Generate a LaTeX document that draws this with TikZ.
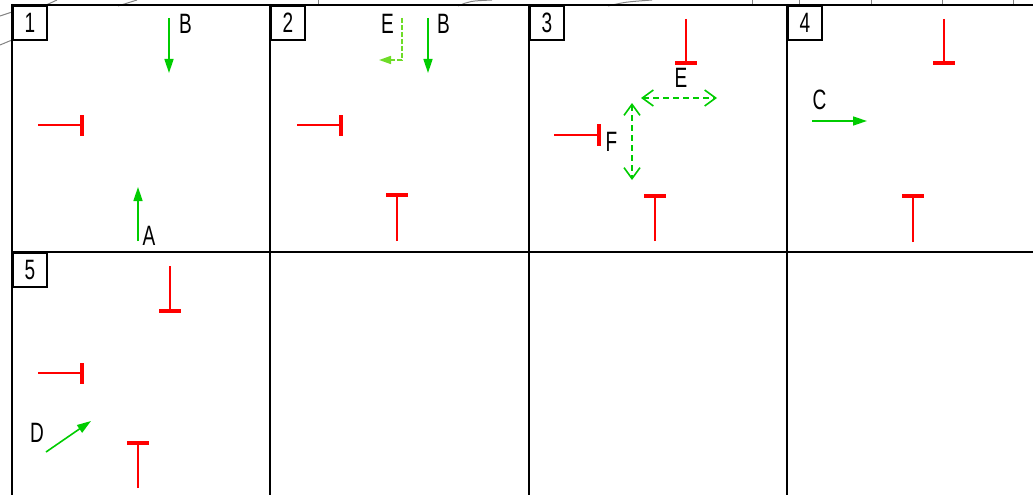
\documentclass[tikz,border=0pt]{standalone}
\usepackage{fontspec}
\setmainfont{Liberation Sans}[FakeStretch=0.68]
\usetikzlibrary{arrows.meta}
\definecolor{cadgreen}{RGB}{0,204,0}
\definecolor{cadlight}{RGB}{110,220,40}
\definecolor{cadred}{RGB}{255,0,0}
\definecolor{bggray}{RGB}{130,130,130}
\tikzset{
  grid/.style={line width=2pt, black},
  numbox/.style={draw, line width=1.6pt, minimum width=34pt, minimum height=34pt, inner sep=0pt, anchor=north west, font=\fontsize{28}{29}\selectfont},
  lbl/.style={inner sep=0pt, font=\fontsize{28}{29}\selectfont},
  stem/.style={cadred, line width=1.6pt},
  bar/.style={cadred, line width=3.2pt},
  garrow/.style={cadgreen, line width=1.6pt, -{Triangle[length=14pt,width=9pt]}},
  earrow/.style={cadlight, line width=1.6pt, dash pattern=on 5pt off 2pt, -{Triangle[length=12pt,width=8pt]}},
  darrow/.style={cadgreen, line width=1.6pt, dash pattern=on 6pt off 4pt, {Straight Barb[length=11pt,width=16pt]}-{Straight Barb[length=11pt,width=16pt]}},
  bgline/.style={bggray, line width=1pt}
}
\begin{document}
\begin{tikzpicture}[x=1pt,y=-1pt]
\useasboundingbox (0,0) rectangle (1033,495);
% faint background lines
\draw[bgline] (0,16) -- (12,12);
\draw[bgline] (0,45) -- (12,40);
\draw[bgline] (44,6) -- (57,0);
\draw[bgline] (118,6) -- (137,0);
\draw[bgline] (318,0) -- (318,5);
\draw[bgline] (458,6) .. controls (470,1) .. (492,0);
\draw[bgline] (608,6) .. controls (625,2) .. (652,0);
\foreach \xx in {752,799,871,942,1013} \draw[bgline] (\xx,0) -- (\xx,5);
% grid
\draw[grid] (11,5) -- (1033,5);
\draw[grid] (11,252) -- (1033,252);
\foreach \xx in {12,270,529,787} \draw[grid] (\xx,4) -- (\xx,495);
% number boxes
\node[numbox] (n1) at (12,5) {1};
\node[numbox] (n2) at (270,5) {2};
\node[numbox] (n3) at (529,5) {3};
\node[numbox] (n4) at (787,5) {4};
\node[numbox] (n5) at (12,252) {5};
% ---- panel 1
\coordinate (p1b0) at (169,18); \coordinate (p1b1) at (169,73);
\draw[garrow] (p1b0) -- (p1b1);
\node[lbl] (p1B) at (185.5,24) {B};
\coordinate (p1l0) at (38,125); \coordinate (p1l1) at (82,125);
\draw[stem] (p1l0) -- (p1l1);
\draw[bar] (82,115) -- (82,136);
\coordinate (p1a0) at (138,241); \coordinate (p1a1) at (138,187);
\draw[garrow] (p1a0) -- (p1a1);
\node[lbl] (p1A) at (149,236) {A};
% ---- panel 2
\coordinate (p2e0) at (402,18); \coordinate (p2e1) at (402,60); \coordinate (p2e2) at (379,60);
\draw[earrow] (p2e0) -- (p2e1) -- (p2e2);
\node[lbl] (p2E) at (387.5,24) {E};
\coordinate (p2b0) at (428,18); \coordinate (p2b1) at (428,73);
\draw[garrow] (p2b0) -- (p2b1);
\node[lbl] (p2B) at (443.5,24) {B};
\coordinate (p2l0) at (297,125); \coordinate (p2l1) at (341,125);
\draw[stem] (p2l0) -- (p2l1);
\draw[bar] (341,115) -- (341,136);
\coordinate (p2t0) at (397,241); \coordinate (p2t1) at (397,195);
\draw[stem] (p2t0) -- (p2t1);
\draw[bar] (386,195) -- (408,195);
% ---- panel 3
\coordinate (p3u0) at (686,19); \coordinate (p3u1) at (686,63);
\draw[stem] (p3u0) -- (p3u1);
\draw[bar] (675,63) -- (697,63);
\node[lbl] (p3E) at (681,77.5) {E};
\coordinate (p3h0) at (641,98); \coordinate (p3h1) at (717,98);
\draw[darrow] (p3h0) -- (p3h1);
\coordinate (p3v0) at (632,103); \coordinate (p3v1) at (632,180);
\draw[darrow] (p3v0) -- (p3v1);
\coordinate (p3l0) at (554,135); \coordinate (p3l1) at (599,135);
\draw[stem] (p3l0) -- (p3l1);
\draw[bar] (599,124) -- (599,146);
\node[lbl] (p3F) at (611.5,142) {F};
\coordinate (p3t0) at (655,241); \coordinate (p3t1) at (655,196);
\draw[stem] (p3t0) -- (p3t1);
\draw[bar] (644,196) -- (666,196);
% ---- panel 4
\coordinate (p4u0) at (944,19); \coordinate (p4u1) at (944,63);
\draw[stem] (p4u0) -- (p4u1);
\draw[bar] (933,63) -- (955,63);
\coordinate (p4c0) at (812,121); \coordinate (p4c1) at (867,121);
\draw[garrow] (p4c0) -- (p4c1);
\node[lbl] (p4C) at (819.5,100) {C};
\coordinate (p4t0) at (913,242); \coordinate (p4t1) at (913,196);
\draw[stem] (p4t0) -- (p4t1);
\draw[bar] (902,196) -- (924,196);
% ---- panel 5
\coordinate (p5u0) at (170,266); \coordinate (p5u1) at (170,311);
\draw[stem] (p5u0) -- (p5u1);
\draw[bar] (159,311) -- (181,311);
\coordinate (p5l0) at (38,373); \coordinate (p5l1) at (82,373);
\draw[stem] (p5l0) -- (p5l1);
\draw[bar] (82,363) -- (82,384);
\coordinate (p5d0) at (46,452); \coordinate (p5d1) at (91,421);
\draw[garrow] (p5d0) -- (p5d1);
\node[lbl] (p5D) at (37,433) {D};
\coordinate (p5t0) at (138,488); \coordinate (p5t1) at (138,443);
\draw[stem] (p5t0) -- (p5t1);
\draw[bar] (127,443) -- (149,443);
\end{tikzpicture}
\end{document}
